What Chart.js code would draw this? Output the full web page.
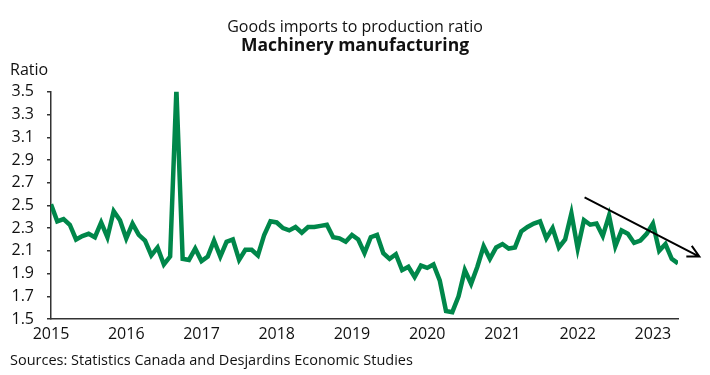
<!DOCTYPE html>
<html>
<head>
<meta charset="utf-8">
<script src="https://cdn.jsdelivr.net/npm/chart.js@4"></script>
<style>
  html, body { margin: 0; padding: 0; background: #fff; }
  #wrap { width: 710px; height: 375px; position: relative; }
</style>
</head>
<body>
<div id="wrap"><canvas id="ratioChart"></canvas></div>
<script>
// Tick labels (one per year, shown at January)
const years = ['2015', '2016', '2017', '2018', '2019', '2020', '2021', '2022', '2023'];

// Monthly goods imports to production ratio, machinery manufacturing
const v2015 = [2.51, 2.36, 2.38, 2.33, 2.20, 2.23, 2.25, 2.22, 2.35, 2.22, 2.45, 2.37];
const v2016 = [2.21, 2.34, 2.24, 2.19, 2.06, 2.13, 1.98, 2.05, 3.52, 2.03, 2.02, 2.12];
const v2017 = [2.01, 2.05, 2.19, 2.05, 2.18, 2.20, 2.02, 2.11, 2.11, 2.06, 2.24, 2.36];
const v2018 = [2.35, 2.30, 2.28, 2.31, 2.26, 2.31, 2.31, 2.32, 2.33, 2.22, 2.21, 2.18];
const v2019 = [2.24, 2.20, 2.08, 2.22, 2.24, 2.08, 2.03, 2.07, 1.93, 1.96, 1.87, 1.97];
const v2020 = [1.95, 1.98, 1.84, 1.57, 1.56, 1.70, 1.93, 1.81, 1.96, 2.14, 2.03, 2.13];
const v2021 = [2.16, 2.12, 2.13, 2.27, 2.31, 2.34, 2.36, 2.21, 2.30, 2.13, 2.20, 2.43];
const v2022 = [2.12, 2.37, 2.33, 2.34, 2.23, 2.41, 2.14, 2.28, 2.25, 2.17, 2.19, 2.25];
const v2023 = [2.34, 2.10, 2.16, 2.03, 1.99];

// Trend arrow, in month index / ratio units
const arrowFrom = [85.1, 2.57];
const arrowTo = [103.4, 2.05];

const values = [].concat(v2015, v2016, v2017, v2018, v2019, v2020, v2021, v2022, v2023);
const labels = values.map((_, i) => years[Math.floor(i / 12)] + '-' + String(i % 12 + 1).padStart(2, '0'));

const FONT = "'Open Sans', sans-serif";
const TEXT = '#111';

// Draws the "Ratio" unit label, the source line and the trend arrow
const extras = {
    id: 'extras',
    afterDraw(chart) {
        const ctx = chart.ctx;
        const x = chart.scales.x;
        const y = chart.scales.y;
        const area = chart.chartArea;
        ctx.save();
        ctx.fillStyle = TEXT;
        ctx.font = '16px ' + FONT;
        ctx.textBaseline = 'middle';
        ctx.textAlign = 'left';
        ctx.fillText('Ratio', 10, area.top - 21);
        ctx.font = '14.5px ' + FONT;
        ctx.fillText('Sources: Statistics Canada and Desjardins Economic Studies', 10, 361);

        const x0 = x.getPixelForValue(arrowFrom[0]);
        const y0 = y.getPixelForValue(arrowFrom[1]);
        const x1 = x.getPixelForValue(arrowTo[0]);
        const y1 = y.getPixelForValue(arrowTo[1]);
        const ang = Math.atan2(y1 - y0, x1 - x0);
        const head = 13;
        const spread = ang;
        ctx.strokeStyle = '#000';
        ctx.lineWidth = 2;
        ctx.beginPath();
        ctx.moveTo(x0, y0);
        ctx.lineTo(x1, y1);
        ctx.moveTo(x1 - head * Math.cos(ang - spread), y1 - head * Math.sin(ang - spread));
        ctx.lineTo(x1, y1);
        ctx.lineTo(x1 - head * Math.cos(ang + spread), y1 - head * Math.sin(ang + spread));
        ctx.stroke();
        ctx.restore();
    }
};

new Chart(document.getElementById('ratioChart'), {
    type: 'line',
    data: {
        labels,
        datasets: [{
            data: values,
            borderColor: '#00874a',
            borderWidth: 4.5,
            pointRadius: 0,
            tension: 0,
            clip: 0
        }]
    },
    options: {
        responsive: true,
        maintainAspectRatio: false,
        animation: false,
        layout: { padding: 0 },
        plugins: {
            legend: { display: false },
            tooltip: { enabled: false },
            title: {
                display: true,
                text: 'Goods imports to production ratio',
                color: TEXT,
                font: { family: FONT, size: 16, weight: 'normal', lineHeight: 1.1 },
                padding: { top: 19, bottom: 0 }
            },
            subtitle: {
                display: true,
                text: 'Machinery manufacturing',
                color: TEXT,
                font: { family: FONT, size: 17.5, weight: 'bold', lineHeight: 1.1 },
                padding: { top: 0, bottom: 36 }
            }
        },
        scales: {
            x: {
                offset: false,
                afterFit: s => { s.height = 56; },
                grid: { display: false, drawTicks: false },
                border: { display: true, color: '#333', width: 1.5 },
                ticks: {
                    autoSkip: false,
                    maxRotation: 0,
                    padding: 6,
                    color: TEXT,
                    font: { family: FONT, size: 16 },
                    callback: (v, i) => (i % 12 === 0 ? years[i / 12] : '')
                }
            },
            y: {
                min: 1.5,
                max: 3.5,
                afterFit: s => { s.width = 51; },
                grid: { drawOnChartArea: false, drawTicks: true, tickLength: 4, color: '#333', lineWidth: 1.5 },
                border: { display: true, color: '#333', width: 1.5 },
                ticks: {
                    stepSize: 0.2,
                    padding: 13,
                    color: TEXT,
                    font: { family: FONT, size: 16 },
                    callback: v => v.toFixed(1)
                }
            },
            // empty right-hand axis that keeps room for the arrow head
            yRight: {
                position: 'right',
                min: 1.5,
                max: 3.5,
                afterFit: s => { s.width = 32; },
                grid: { display: false, drawTicks: false },
                border: { display: false },
                ticks: { display: false }
            }
        }
    },
    plugins: [extras]
});
</script>
</body>
</html>
